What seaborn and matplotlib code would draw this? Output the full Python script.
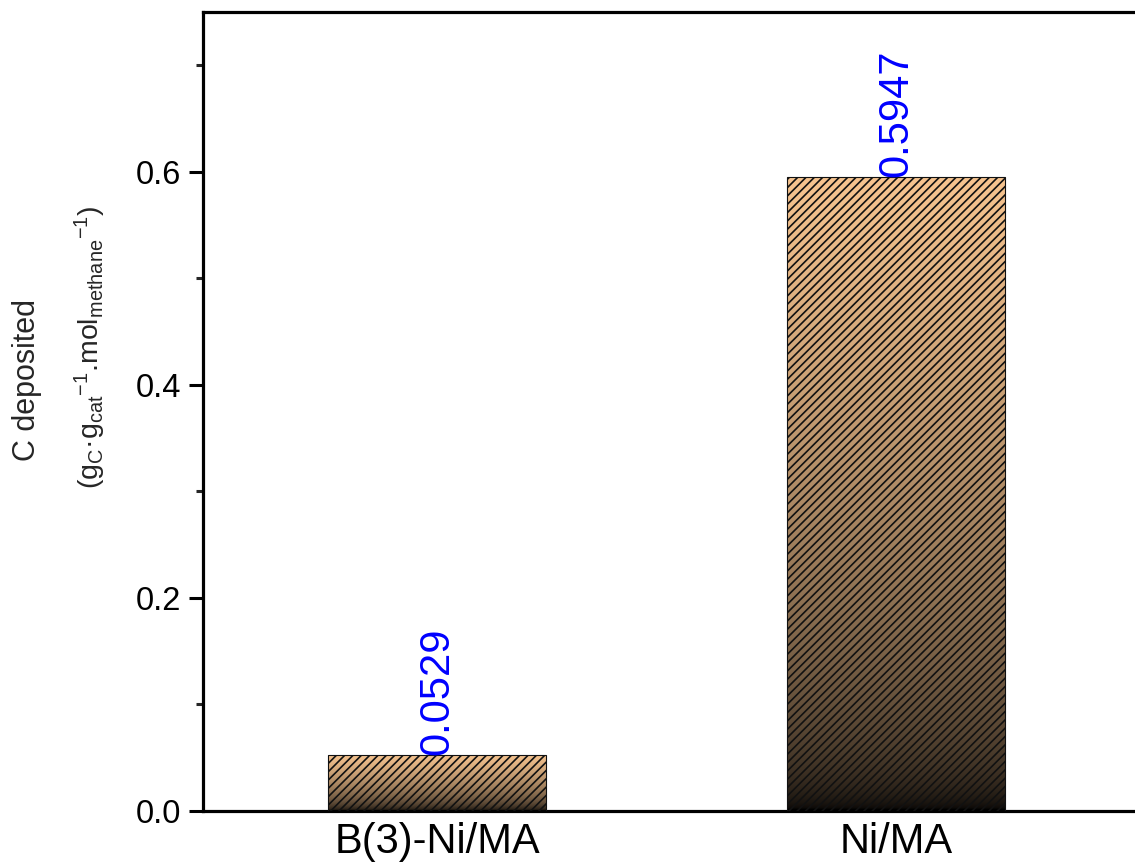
import numpy as np
import matplotlib
matplotlib.use("Agg")
import matplotlib.pyplot as plt
from matplotlib.colors import to_rgb
from matplotlib.ticker import MultipleLocator, FormatStrFormatter
import seaborn as sns

# Carbon deposited per catalyst
categories = ["B(3)-Ni/MA", "Ni/MA"]
carbon_deposited = [0.0529, 0.5947]
value_labels = ["0.0529", "0.5947"]

sns.set_theme(style="ticks")
plt.rcParams["font.family"] = ["Liberation Sans", "DejaVu Sans"]
plt.rcParams["mathtext.fontset"] = "custom"
plt.rcParams["mathtext.rm"] = "Liberation Sans"
plt.rcParams["mathtext.it"] = "Liberation Sans"
plt.rcParams["mathtext.bf"] = "Liberation Sans:bold"
plt.rcParams["hatch.linewidth"] = 1.2

fig = plt.figure(figsize=(11.35, 8.65), dpi=100)
ax = fig.add_axes([203 / 1135, 54 / 865, 0.83, 799 / 865])

sns.barplot(x=categories, y=carbon_deposited, width=0.475, color="#F5C18E",
            ax=ax, saturation=1)

# vertical gradient fill (tan at the top, fading to black at the base)
top_rgb = np.array(to_rgb("#F7C48F"))
for patch in ax.patches:
    x0, y0 = patch.get_x(), patch.get_y()
    w, h = patch.get_width(), patch.get_height()
    t = np.linspace(0, 1, 256) ** 0.5
    grad = (t[:, None, None] * top_rgb[None, None, :]).repeat(2, axis=1)
    im = ax.imshow(grad, extent=(x0, x0 + w, y0, y0 + h), origin="lower",
                   aspect="auto", zorder=2, interpolation="bilinear")
    im.set_clip_path(patch)
    patch.set_facecolor("none")
    patch.set_edgecolor("#111111")
    patch.set_hatch("////")
    patch.set_linewidth(0.8)
    patch.set_zorder(3)

for i, (v, lab) in enumerate(zip(carbon_deposited, value_labels)):
    ax.text(i, v, lab, rotation=90, ha="center", va="bottom",
            color="#0000FF", fontsize=30, zorder=4)

ax.set_xlim(-0.51, 1.542)
ax.set_ylim(0, 0.75)
ax.yaxis.set_major_locator(MultipleLocator(0.2))
ax.yaxis.set_minor_locator(MultipleLocator(0.1))
ax.yaxis.set_major_formatter(FormatStrFormatter("%.1f"))

for side in ["left", "bottom", "top", "right"]:
    ax.spines[side].set_visible(True)
    ax.spines[side].set_linewidth(2.3)
    ax.spines[side].set_color("black")

ax.tick_params(axis="y", which="major", direction="out", length=10, width=2.2,
               labelsize=23.5, pad=6, colors="black")
ax.tick_params(axis="y", which="minor", direction="out", length=5, width=2.2)
ax.tick_params(axis="x", which="both", length=0, labelsize=30, pad=8,
               colors="black")
ax.set_xlabel("")
ax.set_ylabel("")

fig.text(27 / 1135, 1 - 380 / 865, "C deposited", rotation=90, ha="center",
         va="center", fontsize=22)
fig.text(90 / 1135, 1 - 347 / 865,
         r"(g$_\mathregular{C}$·g$_\mathregular{cat}$$^\mathregular{-1}$"
         r".mol$_\mathregular{methane}$$^\mathregular{-1}$)",
         rotation=90, ha="center", va="center", fontsize=20.5)

fig.savefig("out.png", dpi=100)
